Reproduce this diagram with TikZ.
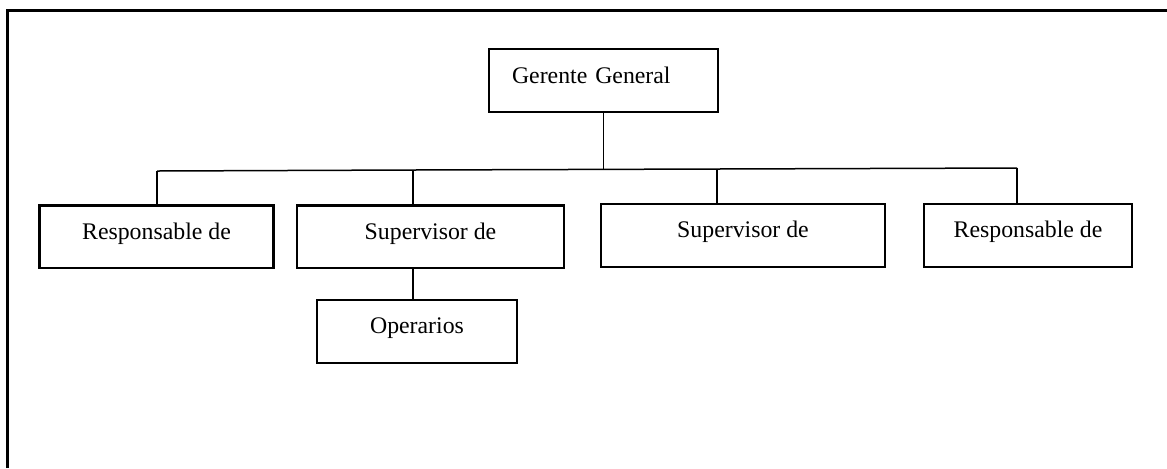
\documentclass[tikz,border=0pt]{standalone}
\usepackage{fontspec}
\setmainfont{Liberation Serif}
\usetikzlibrary{positioning}

\begin{document}
\begin{tikzpicture}[
    x=0.5pt, y=-0.5pt,
    font=\fontsize{11.9}{14}\selectfont,
    box/.style={rectangle, draw, line width=1.1pt, inner xsep=0pt, inner ysep=0pt, text height=16.75pt, text depth=14.5pt, align=center},
    topbox/.style={box, text height=17pt, inner xsep=11.5pt, text width=91.5pt, align=left},
    line/.style={draw, line width=0.75pt},
    frame/.style={draw, line width=1.5pt}
]
\useasboundingbox (0,0) rectangle (1167,468);

% Frame
\path [frame] (7,468) -- (7,10) -- (1167,10);

% Top
\node [topbox] (gerente) at (603.5,80.5) {Gerente General};

% Second level
\node [box, minimum width=117pt] (resp_left) at (156.5,236.75) {Responsable de};
\node [box, minimum width=133.5pt] (sup_left) at (430.5,236.75) {Supervisor de};
\node [box, minimum width=142pt] (sup_right) at (743,235.5) {Supervisor de};
\node [box, minimum width=104pt] (resp_right) at (1028,235.5) {Responsable de};

% Third level
\node [box, minimum width=100pt] (operarios) at (417,331.5) {Operarios};

% Bus
\coordinate (b1) at (157,171);
\coordinate (b2) at (413,170);
\coordinate (b3) at (717,169);
\coordinate (b4) at (1017,168);

% Connections
\path [line] (gerente.south) -- (gerente.south |- b3);
\path [line] (b1) -- (b2) -- (b3) -- (b4);
\path [line] (b1) -- (b1 |- resp_left.north);
\path [line] (b2) -- (b2 |- sup_left.north);
\path [line] (b3) -- (b3 |- sup_right.north);
\path [line] (b4) -- (b4 |- resp_right.north);
\path [line] (b2 |- sup_left.south) -- (b2 |- operarios.north);

\end{tikzpicture}
\end{document}
